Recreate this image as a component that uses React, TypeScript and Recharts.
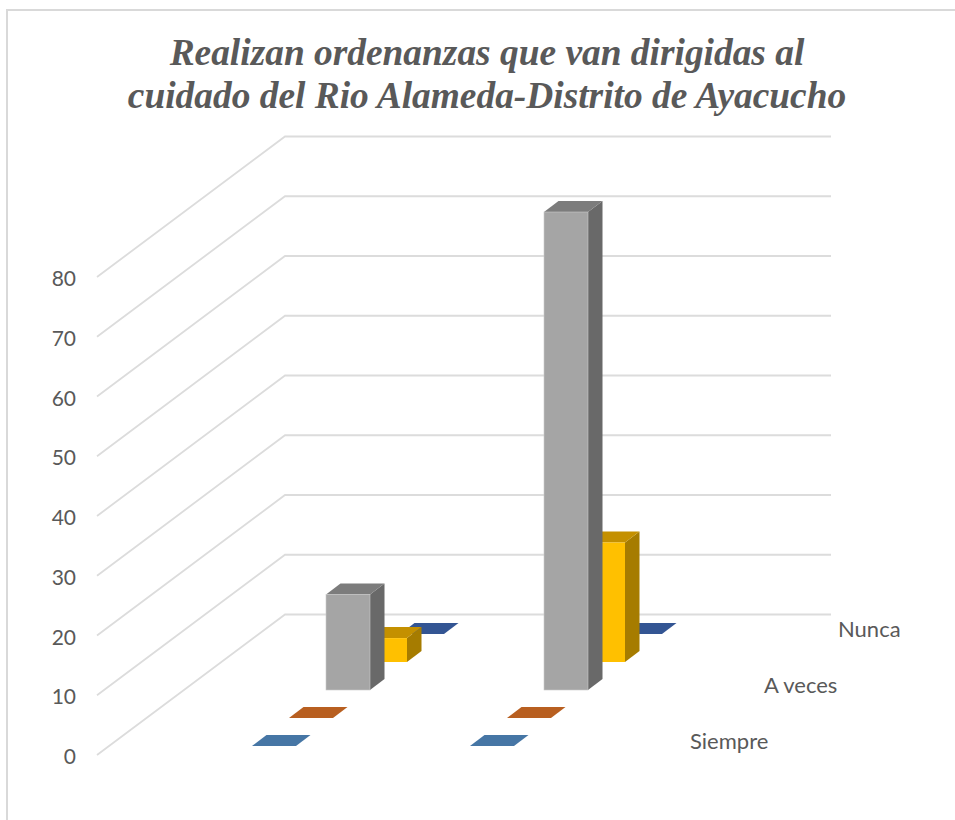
import { BarChart, Bar, CartesianGrid, XAxis, YAxis } from "recharts";

const categories = ["Sí", "No"];
const siempre = [0, 0];
const casiSiempre = [0, 0];
const aVeces = [16, 80];
const casiNunca = [4, 20];
const nunca = [0, 0];
const yTicks = [0, 10, 20, 30, 40, 50, 60, 70, 80];
const titleLines = [
  "Realizan ordenanzas que van dirigidas al",
  "cuidado del Rio Alameda-Distrito de Ayacucho",
];
const depthLabels = [
  { slot: 0, text: "Siempre" },
  { slot: 2, text: "A veces" },
  { slot: 4, text: "Nunca" },
];

const data = categories.map((name, i) => ({
  name,
  siempre: siempre[i],
  casiSiempre: casiSiempre[i],
  aVeces: aVeces[i],
  casiNunca: casiNunca[i],
  nunca: nunca[i],
}));

// 3d look: every series sits one slot further back
const SLOT_DX = 37;
const SLOT_DY = 28;
const FRONT_DX = 12;
const FRONT_DY = 9;
const BOX_DX = 14.5;
const BOX_DY = 11;
const WALL_DX = 188;
const WALL_DY = 140.5;
const WALL_W = 546;
const LABEL_FONT = "Lato, 'Open Sans', sans-serif";

const series = [
  { key: "nunca", slot: 4, front: "#335593", side: "#29447a", top: "#335593", edge: "none" },
  { key: "casiNunca", slot: 3, front: "#FFC000", side: "#A67C00", top: "#C49000", edge: "none" },
  { key: "aVeces", slot: 2, front: "#A5A5A5", side: "#696969", top: "#7C7C7C", edge: "#c9c9c9" },
  { key: "casiSiempre", slot: 1, front: "#B85F20", side: "#8f4a18", top: "#B85F20", edge: "none" },
  { key: "siempre", slot: 0, front: "#4676A5", side: "#365c80", top: "#4676A5", edge: "none" },
];

const makeBox =
  (slot: number, front: string, side: string, top: string, edge: string) => (props: any) => {
    const ox = FRONT_DX + slot * SLOT_DX;
    const oy = FRONT_DY + slot * SLOT_DY;
    const x = props.x + ox;
    const w = props.width;
    const yTop = props.y - oy;
    const h = props.height;
    const yBot = yTop + h;
    return (
      <g>
        {h > 0 && (
          <polygon
            points={`${x + w},${yTop} ${x + w + BOX_DX},${yTop - BOX_DY} ${x + w + BOX_DX},${yBot - BOX_DY} ${x + w},${yBot}`}
            fill={side}
          />
        )}
        <polygon
          points={`${x},${yTop} ${x + BOX_DX},${yTop - BOX_DY} ${x + w + BOX_DX},${yTop - BOX_DY} ${x + w},${yTop}`}
          fill={top}
        />
        {h > 0 && (
          <rect x={x} y={yTop} width={w} height={h} fill={front} stroke={edge} strokeWidth={0.6} />
        )}
      </g>
    );
  };

// grid line folded over the left wall and along the back wall
const WallLine = (props: any) => {
  const { x1, y1 } = props;
  return (
    <polyline
      key={`wall-${y1}`}
      points={`${x1},${y1} ${x1 + WALL_DX},${y1 - WALL_DY} ${x1 + WALL_DX + WALL_W},${y1 - WALL_DY}`}
      fill="none"
      stroke="#dcdcdc"
      strokeWidth={1.8}
    />
  );
};

const ValueTick = (props: any) => {
  const { x, y, payload } = props;
  return (
    <text
      x={x - 21}
      y={y + 9}
      textAnchor="end"
      fontSize={21}
      fontFamily={LABEL_FONT}
      fill="#595959"
    >
      {payload.value}
    </text>
  );
};

export default function App() {
  return (
    <div style={{ position: "absolute", left: 0, top: 0, width: 955, height: 820, background: "#fff", overflow: "hidden" }}>
      <div
        style={{
          position: "absolute",
          left: 6,
          top: 9,
          width: 949,
          height: 811,
          borderTop: "2px solid #d9d9d9",
          borderLeft: "2px solid #d9d9d9",
        }}
      />
      <div style={{ position: "absolute", left: 0, top: 0 }}>
        <BarChart
          width={955}
          height={820}
          data={data}
          margin={{ top: 277, right: 312, bottom: 65, left: 96 }}
          barSize={44}
          barGap={-44}
        >
          <CartesianGrid vertical={false} horizontal={WallLine} />
          <XAxis dataKey="name" hide padding={{ left: 56, right: 54 }} />
          <YAxis
            width={1}
            domain={[0, 80]}
            ticks={yTicks}
            interval={0}
            axisLine={false}
            tickLine={false}
            tickSize={0}
            tickMargin={0}
            tick={ValueTick}
          />
          {series.map((s) => (
            <Bar
              key={s.key}
              dataKey={s.key}
              isAnimationActive={false}
              shape={makeBox(s.slot, s.front, s.side, s.top, s.edge)}
            />
          ))}
          {titleLines.map((line, i) => (
            <text
              key={line}
              x={487}
              y={65 + i * 42.5}
              textAnchor="middle"
              fontFamily="'Liberation Serif', serif"
              fontWeight="bold"
              fontStyle="italic"
              fontSize={37.4}
              fill="#595959"
            >
              {line}
            </text>
          ))}
          {depthLabels.map((d) => (
            <text
              key={d.text}
              x={690 + d.slot * SLOT_DX}
              y={748.5 - d.slot * SLOT_DY}
              fontFamily={LABEL_FONT}
              fontSize={22}
              fill="#595959"
            >
              {d.text}
            </text>
          ))}
        </BarChart>
      </div>
    </div>
  );
}
